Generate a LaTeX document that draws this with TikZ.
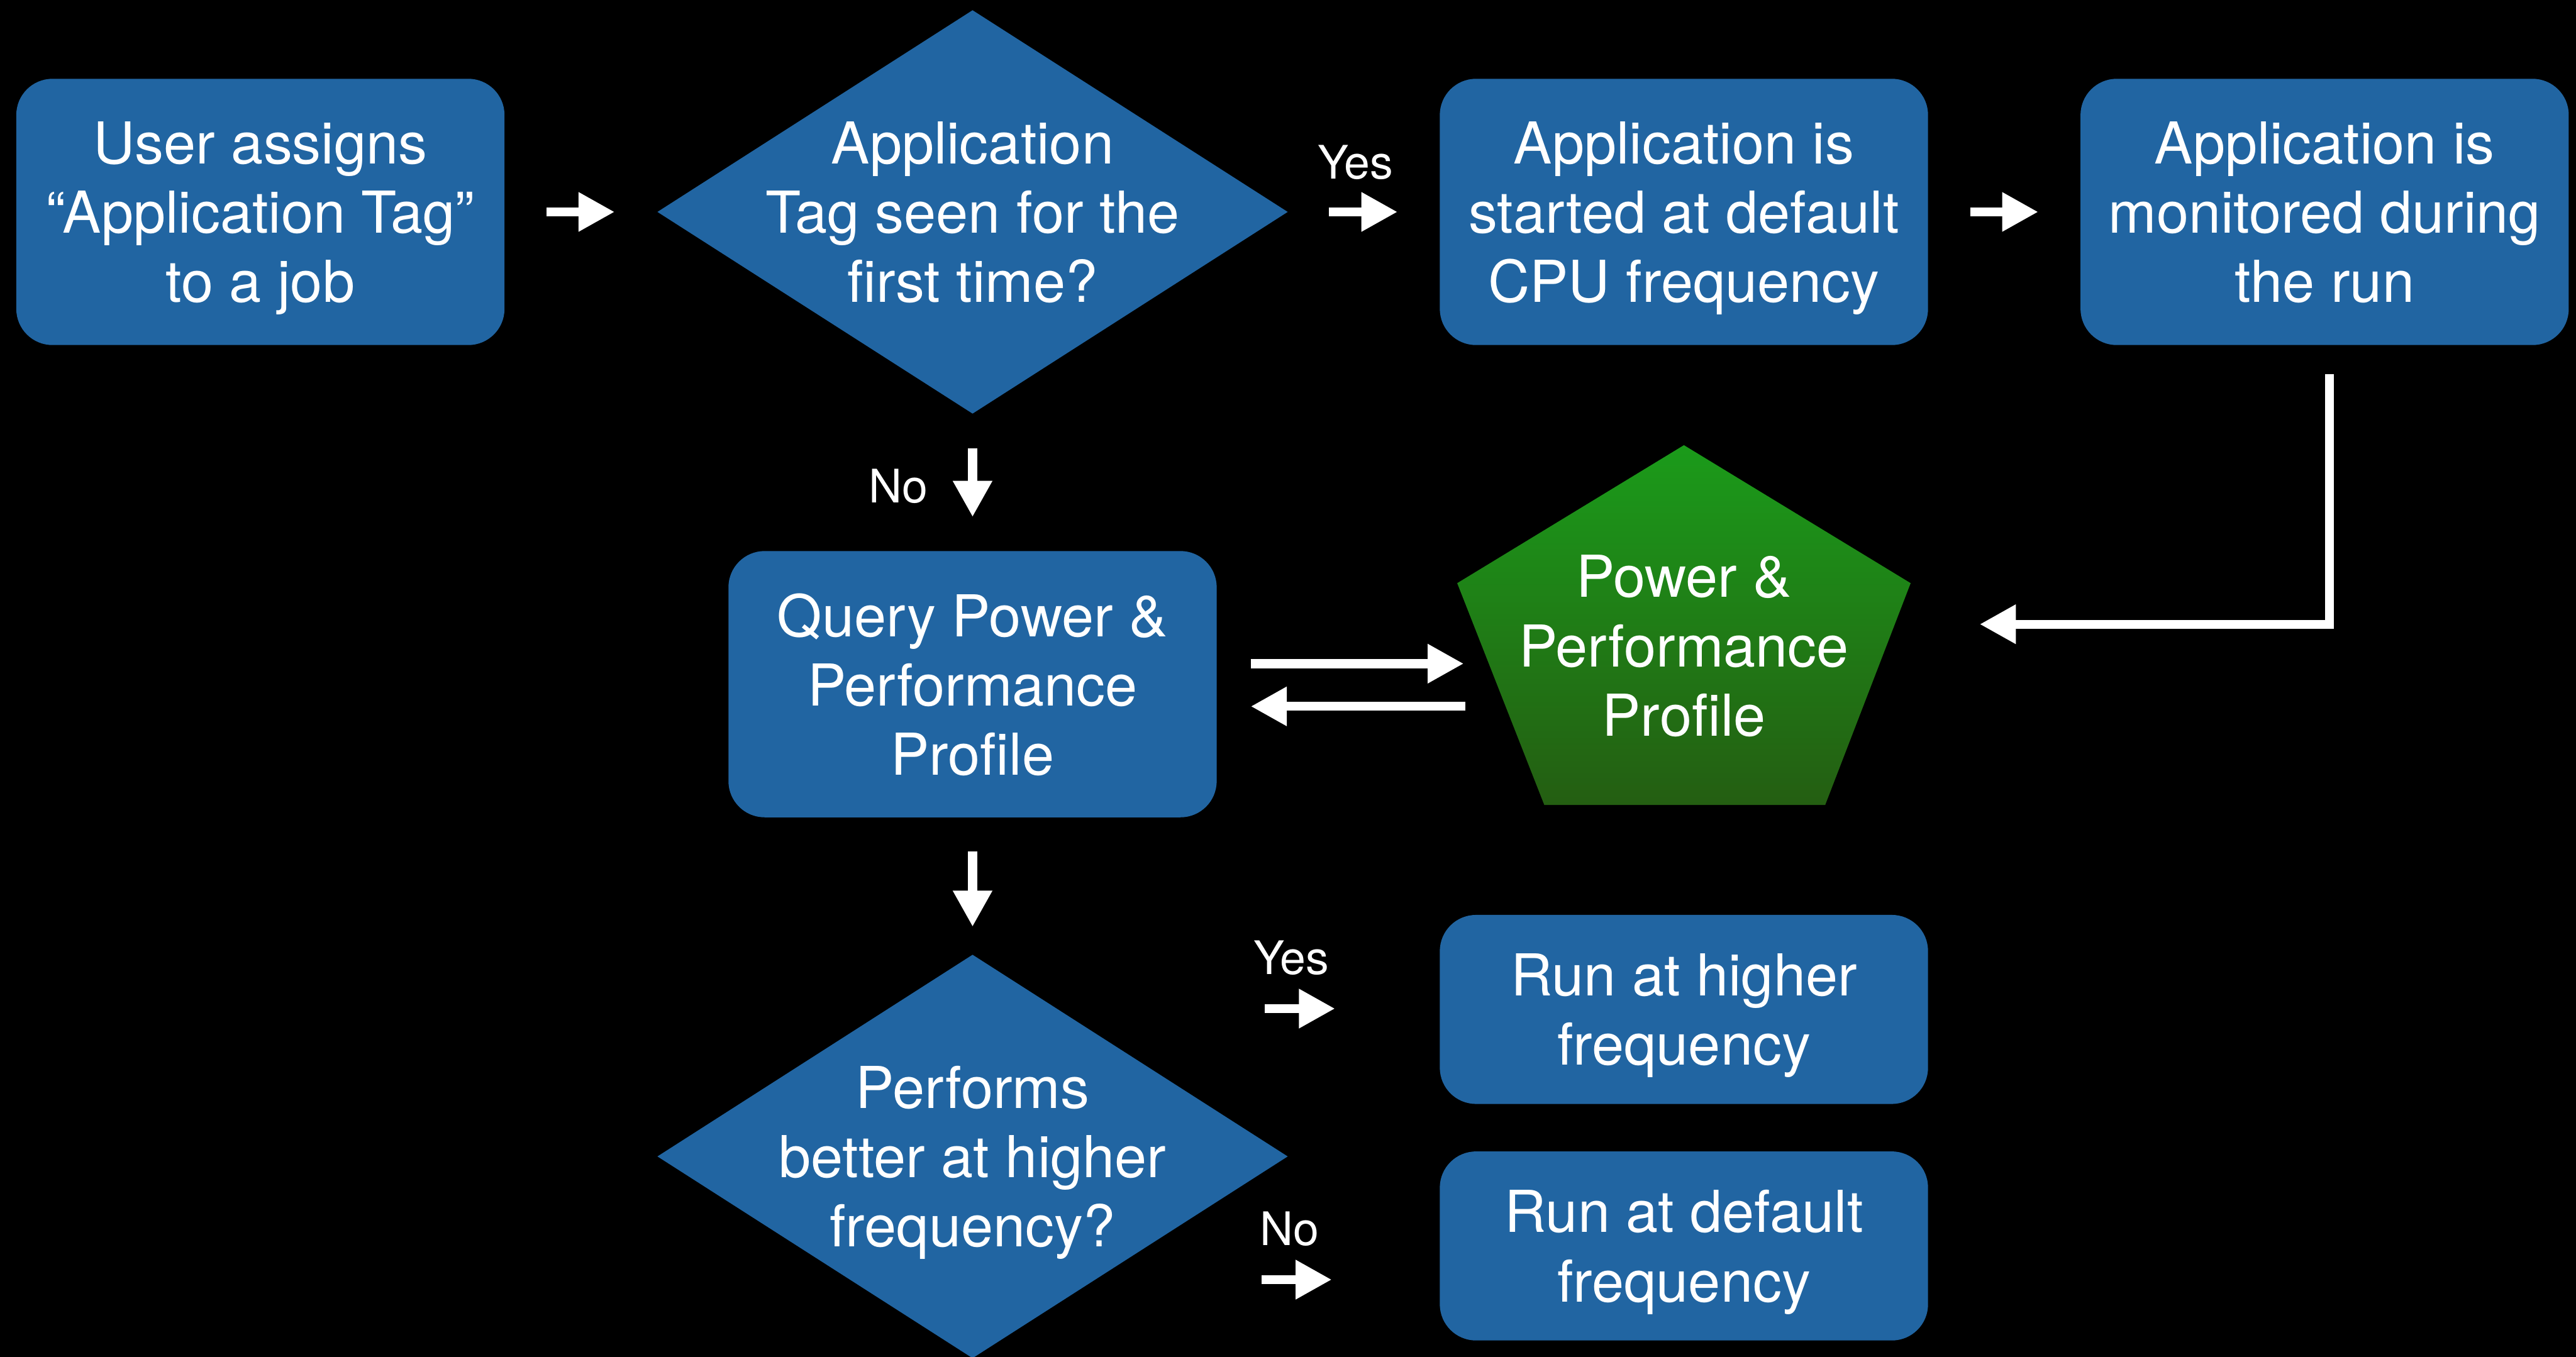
\documentclass[tikz,border=0pt]{standalone}
\usepackage{fontspec}
\setmainfont{TeX Gyre Heros}
\usepackage{tikz}
\usetikzlibrary{arrows.meta,shapes.geometric,positioning}
\definecolor{azul}{RGB}{33,101,162}
\definecolor{verdeA}{RGB}{27,155,26}
\definecolor{verdeB}{RGB}{36,94,18}
\begin{document}
\begin{tikzpicture}
 	[x=0.01cm,y=-0.01cm,
 	caja/.style={rectangle,rounded corners=0.22cm,fill=azul,text=white,align=center,
 		inner sep=0pt,minimum width=2.97cm,minimum height=1.62cm,text depth=0pt,
 		font=\fontsize{10}{12}\selectfont},
 	caja2/.style={caja,minimum height=1.15cm},
 	rombo/.style={diamond,fill=azul,inner sep=0pt,minimum width=3.84cm,minimum height=2.46cm},
 	texto/.style={text=white,align=center,text depth=0pt,font=\fontsize{10}{12}\selectfont},
 	etiq/.style={text=white,font=\fontsize{8}{9.6}\selectfont},
 	flecha/.style={white,line width=0.055cm,-{Triangle[length=0.22cm,width=0.225cm]}}]
 	% fondo negro
 	\useasboundingbox (0,0) rectangle (1568,826);
 	\fill[black] (0,0) rectangle (1568,826);
 	% fila de arriba
 	\node[caja] (user) at (158.5,129) {User assigns\\“Application Tag”\\to a job};
 	\node[rombo] (tag) at (592,129) {};
 	\node[texto] at (tag) {Application\\Tag seen for the\\first time?};
 	\node[caja] (start) at (1025,129) {Application is\\started at default\\CPU frequency};
 	\node[caja] (mon) at (1415,129) {Application is\\monitored during\\the run};
 	% consulta y perfil
 	\node[caja] (query) at (592,416.5) {Query Power \&\\Performance\\Profile};
 	\shade[top color=verdeA,bottom color=verdeB]
 	(1025,271) -- (1163,355) -- (1111,490) -- (940,490) -- (887,355) -- cycle;
 	\node[texto] (prof) at (1025,393) {Power \&\\Performance\\Profile};
 	% decision de abajo
 	\node[rombo] (perf) at (592,704) {};
 	\node[texto] at (perf) {Performs\\better at higher\\frequency?};
 	\node[caja2] (high) at (1025,614.5) {Run at higher\\frequency};
 	\node[caja2] (low) at (1025,758.5) {Run at default\\frequency};
 	% puntos libres de las flechas
 	\coordinate (pin) at (891,404);
 	\coordinate (pout) at (892,430);
 	\coordinate (pret) at (1205,380);
 	\coordinate (sisal) at (770,614);
 	\coordinate (nosal) at (768,779);
 	% flechas
 	\draw[flecha,shorten <=0.25cm,shorten >=0.25cm] (user) -- (tag);
 	\draw[flecha,shorten <=0.24cm,shorten >=0.25cm] (tag) -- (start);
 	\draw[flecha,shorten <=0.25cm,shorten >=0.25cm] (start) -- (mon);
 	\draw[flecha,shorten <=0.2cm,shorten >=0.2cm] (tag) -- (query);
 	\draw[flecha,shorten <=0.2cm,shorten >=0.16cm] (query) -- (perf);
 	\draw[flecha,shorten <=0.2cm] (query.east |- pin) -- (pin);
 	\draw[flecha,shorten >=0.2cm] (pout) -- (query.east |- pout);
 	\draw[flecha,shorten <=0.17cm] ([xshift=0.03cm]mon.south) |- (pret);
 	\draw[flecha,shorten >=0.63cm] (sisal) -- (sisal -| high.west);
 	\draw[flecha,shorten >=0.65cm] (nosal) -- (nosal -| low.west);
 	% etiquetas
 	\node[etiq] (si1) at (825,99) {Yes};
 	\node[etiq] (no1) at (547,296) {No};
 	\node[etiq] (si2) at (786,583) {Yes};
 	\node[etiq] (no2) at (785,748) {No};
\end{tikzpicture}
\end{document}
